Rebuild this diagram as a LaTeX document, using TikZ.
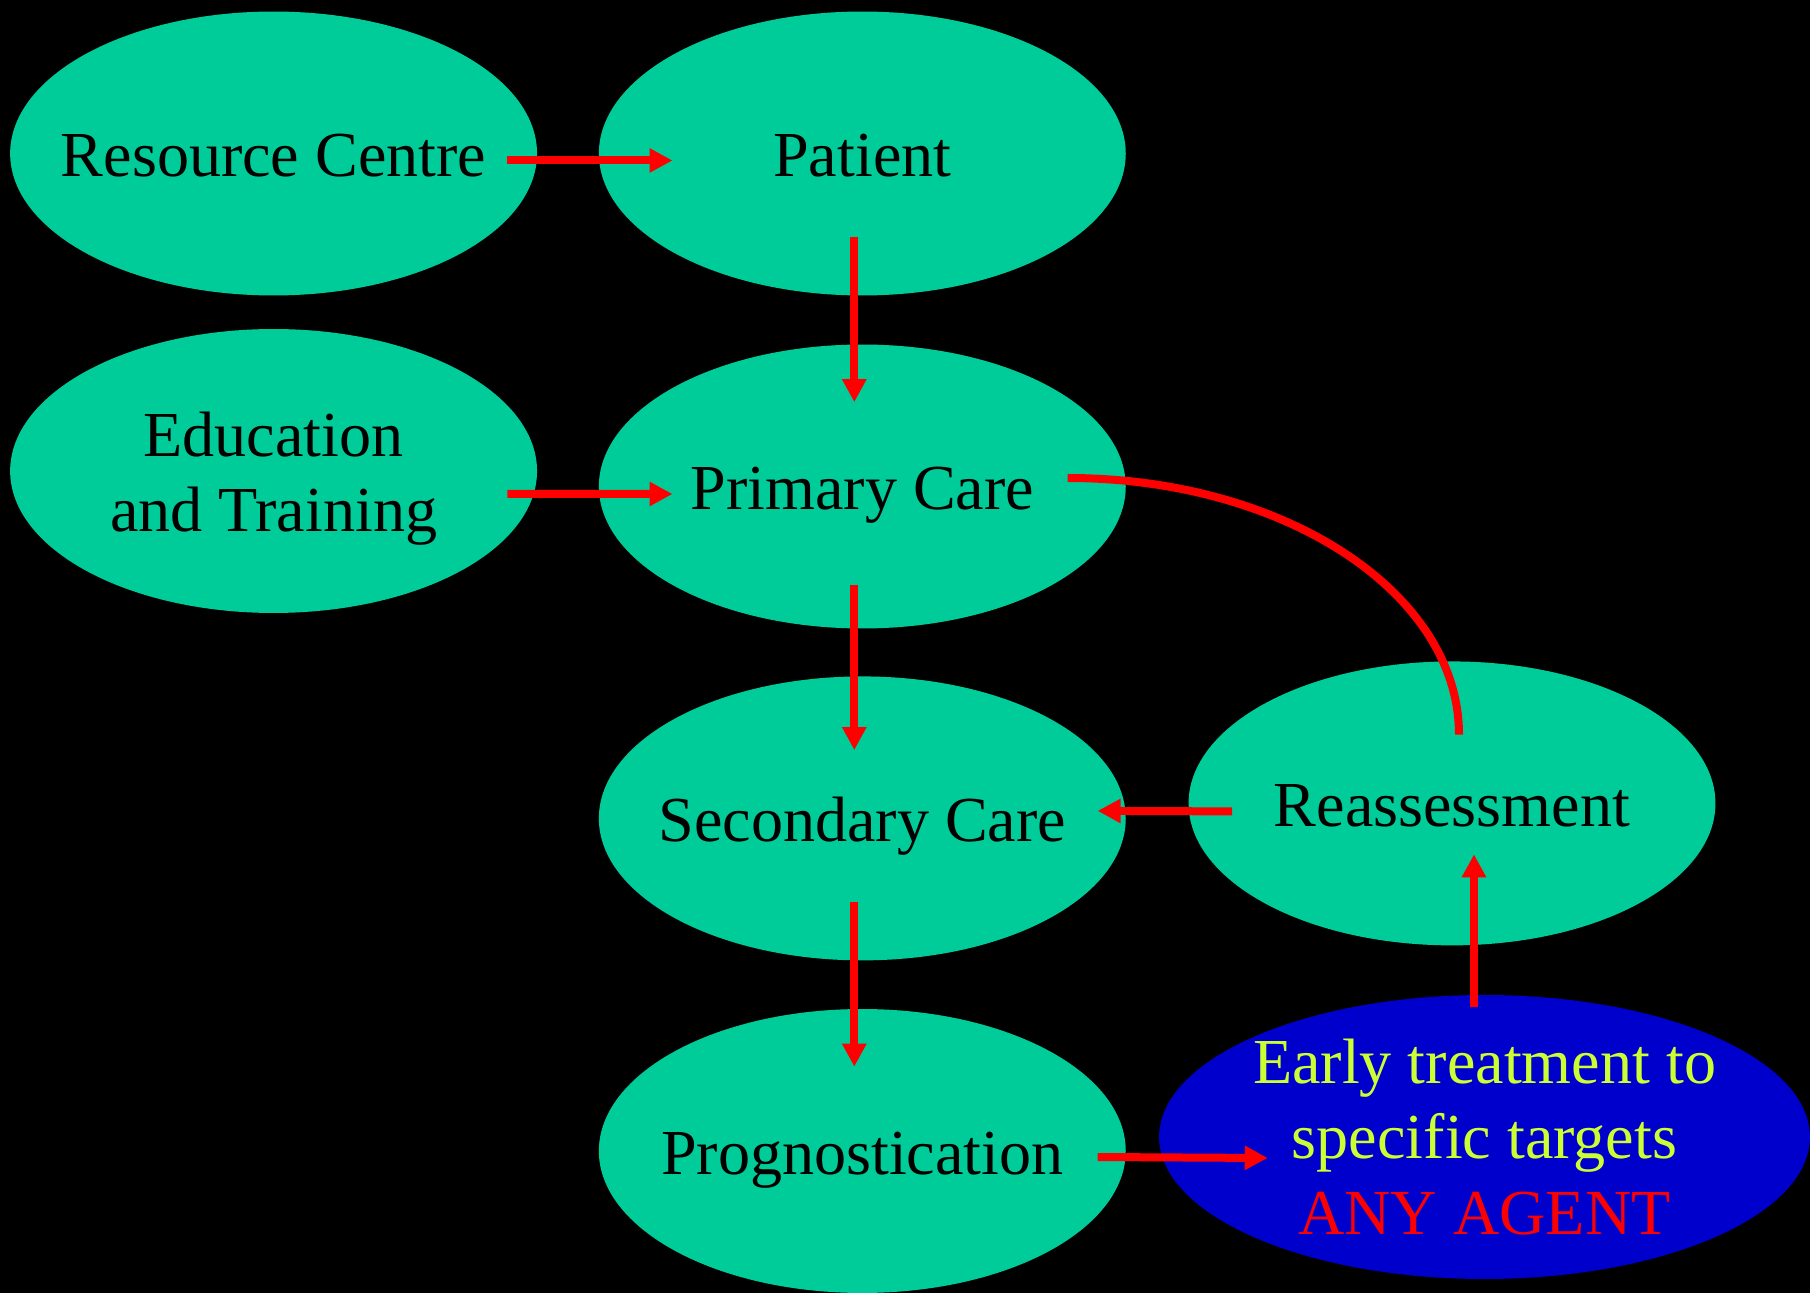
\documentclass[tikz,border=0pt]{standalone}
\usepackage{fontspec}
\setmainfont{Liberation Serif}
\usetikzlibrary{shapes.geometric,arrows.meta}
\definecolor{bubgreen}{RGB}{0,204,153}
\definecolor{bubblue}{RGB}{0,0,204}
\definecolor{txtyellow}{RGB}{204,255,51}

\begin{document}
\begin{tikzpicture}[x=0.02cm,y=-0.02cm,
	bub/.style={ellipse,fill=bubgreen,inner xsep=-5cm,inner ysep=0pt,minimum width=10.54cm,minimum height=5.68cm,align=center,text height=34pt,text depth=7.8pt,font=\fontsize{36.5}{43}\selectfont},
	arr/.style={red,line width=0.16cm,-{Triangle[length=0.46cm,width=0.46cm]}}]
	\useasboundingbox (0,0) rectangle (1810,1293);
	\fill[black] (0,0) rectangle (1810,1293);
	\node[bub] (rc) at (273.6,153.5) {Resource Centre};
	\node[bub] (pat) at (862.3,153.5) {Patient};
	\node[bub,text height=76.8pt] (edu) at (273.6,471) {Education\\and Training};
	\node[bub] (prim) at (862.3,486.5) {Primary Care};
	\node[bub] (sec) at (862.3,818.4) {Secondary Care};
	\node[bub] (prog) at (862.3,1151) {Prognostication};
	\node[bub] (reas) at (1452,803.4) {Reassessment};
	\node[bub,fill=bubblue,text=txtyellow,minimum width=13.02cm,text height=,text depth=] (early) at (1484.5,1137) {Early treatment to\\specific targets\\\textcolor{red}{ANY AGENT}};
	\draw[arr] ([shift={(-30,7)}]rc.east) -- ([shift={(74,7)}]pat.west);
	\draw[arr] ([shift={(-30,23)}]edu.east) -- ([shift={(74,7.5)}]prim.west);
	\foreach \a/\b/\s/\t in {pat/prim/-59/58,prim/sec/-44/74,sec/prog/-59/58}{
		\draw[arr] ([shift={(-8,\s)}]\a.south) -- ([shift={(-8,\t)}]\b.north);
	}
	\draw[arr] ([shift={(-28.5,6)}]prog.east) -- ([shift={(109,21)}]early.west);
	\draw[arr] ([shift={(-10.5,12)}]early.north) -- ([shift={(22,-91.4)}]reas.south);
	\draw[arr] ([shift={(44,8)}]reas.west) -- ([shift={(-28.5,-7.5)}]sec.east);
	\draw[red,line width=0.16cm] ([shift={(-58.5,-8.5)}]prim.east) .. controls +(216.5,0) and +(0,-142) .. ([shift={(7,73.6)}]reas.north);
\end{tikzpicture}
\end{document}
